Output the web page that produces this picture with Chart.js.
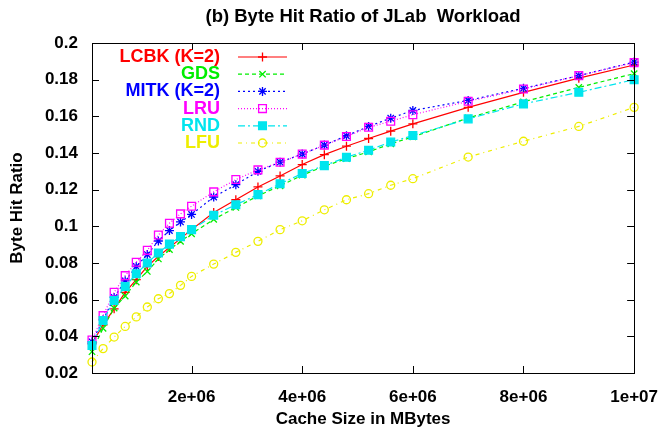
<!DOCTYPE html>
<html>
<head>
<meta charset="utf-8">
<script src="https://cdn.jsdelivr.net/npm/chart.js@4.4.1/dist/chart.umd.min.js"></script>
<style>
body { margin: 0; background: #fff; }
</style>
</head>
<body>
<canvas id="hitratio" width="664" height="430"></canvas>
<script>
// cache sizes (x) and byte hit ratio per policy
var cacheSize = [200000, 400000, 600000, 800000, 1000000, 1200000, 1400000, 1600000, 1800000, 2000000,
    2400000, 2800000, 3200000, 3600000, 4000000, 4400000, 4800000, 5200000, 5600000, 6000000,
    7000000, 8000000, 9000000, 10000000];
var lcbk = [0.036, 0.0463, 0.055, 0.064, 0.0709, 0.0781, 0.0836, 0.0885, 0.0933, 0.0982,
    0.1075, 0.1145, 0.1215, 0.1275, 0.1337, 0.1391, 0.1437, 0.1479, 0.1519, 0.1559,
    0.1649, 0.1731, 0.1808, 0.188];
var gds = [0.0316, 0.0444, 0.0554, 0.062, 0.0696, 0.0754, 0.0822, 0.0873, 0.0918, 0.0959,
    0.1038, 0.1103, 0.1166, 0.1221, 0.1279, 0.1328, 0.1369, 0.1406, 0.145, 0.1488,
    0.1591, 0.1679, 0.1758, 0.1833];
var mitk = [0.037, 0.049, 0.0612, 0.0703, 0.0781, 0.0846, 0.092, 0.0977, 0.1024, 0.1065,
    0.116, 0.1227, 0.13, 0.135, 0.1394, 0.1443, 0.1494, 0.1545, 0.159, 0.1632,
    0.1687, 0.1753, 0.1822, 0.1896];
var lru = [0.038, 0.0513, 0.064, 0.0731, 0.0804, 0.0869, 0.0953, 0.1017, 0.1068, 0.111,
    0.1188, 0.1255, 0.1308, 0.135, 0.1394, 0.1443, 0.149, 0.154, 0.1573, 0.1609,
    0.1682, 0.1749, 0.1822, 0.1893];
var rnd = [0.035, 0.0486, 0.0595, 0.0672, 0.0741, 0.08, 0.0855, 0.0903, 0.0944, 0.0982,
    0.106, 0.1118, 0.1173, 0.1232, 0.1288, 0.1331, 0.1377, 0.1415, 0.146, 0.1495,
    0.1586, 0.1668, 0.1731, 0.18];
var lfu = [0.026, 0.0333, 0.0396, 0.0454, 0.0506, 0.056, 0.0605, 0.0633, 0.0678, 0.0727,
    0.0794, 0.0858, 0.0918, 0.0982, 0.103, 0.109, 0.1145, 0.1178, 0.1224, 0.126,
    0.1378, 0.1464, 0.1545, 0.1649];

var policyNames = ['LCBK (K=2)', 'GDS', 'MITK (K=2)', 'LRU', 'RND', 'LFU'];
var policyValues = [lcbk, gds, mitk, lru, rnd, lfu];

var xTickValues = [2000000, 4000000, 6000000, 8000000, 10000000];
var xTickLabels = ['2e+06', '4e+06', '6e+06', '8e+06', '1e+07'];
var yTickValues = [0.02, 0.04, 0.06, 0.08, 0.1, 0.12, 0.14, 0.16, 0.18, 0.2];
var yTickLabels = ['0.02', '0.04', '0.06', '0.08', '0.1', '0.12', '0.14', '0.16', '0.18', '0.2'];

// gnuplot-ish line styles
var colors = ['#ff0000', '#00ee00', '#0000ff', '#ff00ff', '#00e5ee', '#eeee00'];
var dashes = [[], [4, 3], [2, 3], [1, 2], [7, 3, 2, 3], [4, 4, 1, 4]];
var markers = ['cross', 'crossRot', 'star', 'rect', 'rect', 'circle'];
var markerFill = ['#ff0000', '#00ee00', '#0000ff', 'rgba(0,0,0,0)', '#00e5ee', 'rgba(0,0,0,0)'];
var markerSize = [4.5, 4.5, 4.5, 5.5, 5.5, 4];

var FONT = 'Liberation Sans, Arial, Helvetica, sans-serif';

var datasets = policyNames.map(function (name, i) {
    return {
        label: name,
        data: cacheSize.map(function (x, j) { return { x: x, y: policyValues[i][j] }; }),
        borderColor: colors[i],
        backgroundColor: markerFill[i],
        borderWidth: 1.2,
        borderDash: dashes[i],
        pointStyle: markers[i],
        pointRadius: markerSize[i],
        pointBorderWidth: 1.3,
        pointBorderColor: colors[i],
        pointBackgroundColor: markerFill[i],
        tension: 0,
        clip: false,
        order: policyNames.length - i
    };
});

var frameAndTitle = {
    id: 'frameAndTitle',
    beforeDraw: function (chart) {
        var c = chart.ctx;
        c.save();
        c.fillStyle = '#fff';
        c.fillRect(0, 0, chart.width, chart.height);
        c.restore();
    },
    afterDraw: function (chart) {
        var c = chart.ctx, a = chart.chartArea;
        var xs = chart.scales.x, ys = chart.scales.y;
        c.save();
        // border
        c.strokeStyle = '#000';
        c.lineWidth = 1;
        c.strokeRect(Math.round(a.left) + 0.5, Math.round(a.top) + 0.5,
            Math.round(a.right - a.left), Math.round(a.bottom - a.top));
        // inward tick marks, mirrored on all sides
        c.beginPath();
        xs.ticks.forEach(function (t) {
            var px = Math.round(xs.getPixelForValue(t.value)) + 0.5;
            c.moveTo(px, a.bottom); c.lineTo(px, a.bottom - 7);
            c.moveTo(px, a.top); c.lineTo(px, a.top + 7);
        });
        ys.ticks.forEach(function (t) {
            var py = Math.round(ys.getPixelForValue(t.value)) + 0.5;
            c.moveTo(a.left, py); c.lineTo(a.left + 7, py);
            c.moveTo(a.right, py); c.lineTo(a.right - 7, py);
        });
        c.stroke();
        // title
        c.fillStyle = '#000';
        c.font = 'bold 18.5px ' + FONT;
        c.textAlign = 'center';
        c.textBaseline = 'middle';
        c.fillText('(b) Byte Hit Ratio of JLab  Workload', (a.left + a.right) / 2, 17);
        // key, top left inside the plot
        chart.data.datasets.forEach(function (ds, i) {
            var y = 57 + i * 17.2;
            c.font = 'bold 18px ' + FONT;
            c.textAlign = 'right';
            c.fillStyle = ds.borderColor;
            c.fillText(ds.label, 220, y);
            c.strokeStyle = ds.borderColor;
            c.lineWidth = ds.borderWidth;
            c.setLineDash(ds.borderDash);
            c.beginPath();
            c.moveTo(238, y); c.lineTo(287, y);
            c.stroke();
            c.setLineDash([]);
            c.lineWidth = ds.pointBorderWidth;
            c.fillStyle = ds.pointBackgroundColor;
            Chart.helpers.drawPoint(c, { pointStyle: ds.pointStyle, radius: ds.pointRadius, rotation: 0, borderWidth: ds.pointBorderWidth }, 262.5, y);
        });
        c.restore();
    }
};

var ctx = document.getElementById('hitratio').getContext('2d');
var myChart = new Chart(ctx, {
    type: 'line',
    data: { datasets: datasets },
    plugins: [frameAndTitle],
    options: {
        responsive: false,
        animation: false,
        layout: { padding: { top: 43, right: 27, left: 0, bottom: 0 } },
        plugins: {
            legend: { display: false },
            title: { display: false },
            tooltip: { enabled: false }
        },
        scales: {
            x: {
                type: 'linear',
                min: 200000,
                max: 10000000,
                grid: { display: false },
                border: { display: false },
                afterBuildTicks: function (scale) {
                    scale.ticks = xTickValues.map(function (v) { return { value: v }; });
                },
                afterFit: function (scale) { scale.height = 57; },
                ticks: {
                    autoSkip: false,
                    maxRotation: 0,
                    padding: 6,
                    color: '#000',
                    font: { family: FONT, size: 17, weight: 'bold' },
                    callback: function (v, i) { return xTickLabels[i]; }
                },
                title: {
                    display: true,
                    text: 'Cache Size in MBytes',
                    color: '#000',
                    font: { family: FONT, size: 17, weight: 'bold' },
                    padding: { top: 0, bottom: 0 }
                }
            },
            y: {
                type: 'linear',
                min: 0.02,
                max: 0.2,
                grid: { display: false },
                border: { display: false },
                afterBuildTicks: function (scale) {
                    scale.ticks = yTickValues.map(function (v) { return { value: v }; });
                },
                afterFit: function (scale) { scale.width = 92; },
                ticks: {
                    autoSkip: false,
                    padding: 6,
                    color: '#000',
                    font: { family: FONT, size: 17, weight: 'bold' },
                    callback: function (v, i) { return yTickLabels[i]; }
                },
                title: {
                    display: true,
                    text: 'Byte Hit Ratio',
                    color: '#000',
                    font: { family: FONT, size: 17, weight: 'bold' },
                    padding: { top: 7, bottom: 0 }
                }
            }
        }
    }
});
</script>
</body>
</html>
